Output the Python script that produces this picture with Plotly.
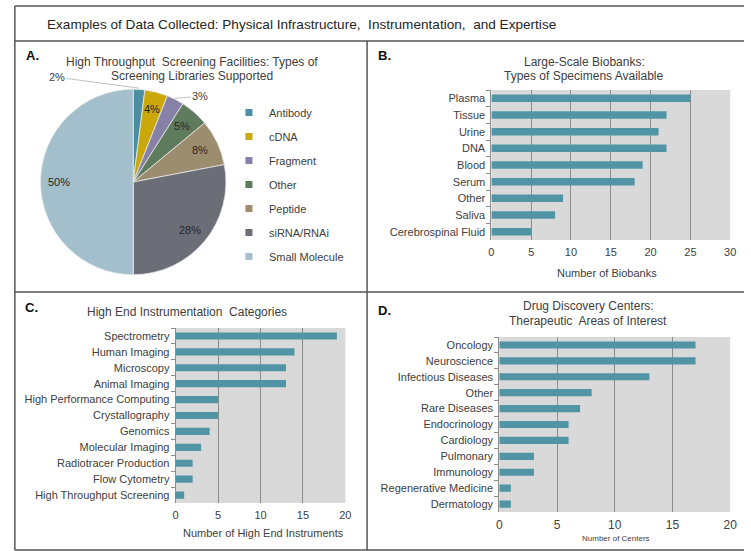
import numpy as np
import plotly.graph_objects as go

W, H = 751, 551
FONT = "Liberation Sans, Arial, sans-serif"
TXT = "#404040"

# ---------------- data ----------------
pie_labels = ["Antibody", "cDNA", "Fragment", "Other", "Peptide", "siRNA/RNAi", "Small Molecule"]
pie_values = [2, 4, 3, 5, 8, 28, 50]
pie_colors = ["#4a8e9f", "#cba80a", "#8881a7", "#5e7b5e", "#9d8d6f", "#6c6e77", "#a3bfcc"]

biobank_types = ["Plasma", "Tissue", "Urine", "DNA", "Blood", "Serum", "Other", "Saliva",
                 "Cerebrospinal Fluid"]
biobank_counts = [25, 22, 21, 22, 19, 18, 9, 8, 5]

instrument_categories = ["Spectrometry", "Human Imaging", "Microscopy", "Animal Imaging",
                         "High Performance Computing", "Crystallography", "Genomics",
                         "Molecular Imaging", "Radiotracer Production", "Flow Cytometry",
                         "High Throughput Screening"]
instrument_counts = [19, 14, 13, 13, 5, 5, 4, 3, 2, 2, 1]

therapeutic_areas = ["Oncology", "Neuroscience", "Infectious Diseases", "Other", "Rare Diseases",
                     "Endocrinology", "Cardiology", "Pulmonary", "Immunology",
                     "Regenerative Medicine", "Dermatology"]
center_counts = [17, 17, 13, 8, 7, 6, 6, 3, 3, 1, 1]

# ---------------- helpers ----------------
def px(x):
    return x / W


def py(y):
    return 1 - y / H


BAR = "#5094a6"
GRID = "#8c8c8c"

fig = go.Figure()

# ---------------- pie (panel A) ----------------
PIE_L, PIE_R, PIE_T, PIE_B = 38, 226, 88, 276
fig.add_trace(go.Pie(
    labels=pie_labels, values=pie_values, sort=False, direction="clockwise", rotation=0,
    marker=dict(colors=pie_colors, line=dict(color="#e8e8e8", width=0.8)),
    textinfo="none", hoverinfo="label+percent", showlegend=False,
    domain=dict(x=[px(PIE_L), px(PIE_R)], y=[py(PIE_B), py(PIE_T)]),
))

# legend entries (one group each so the spacing can be opened up)
for lab, col in zip(pie_labels, pie_colors):
    fig.add_trace(go.Scatter(
        x=[None], y=[None], mode="markers", name=lab, legendgroup=lab,
        marker=dict(symbol="square", size=7, color=col, line=dict(width=0)),
        xaxis="x", yaxis="y", showlegend=True, hoverinfo="skip",
    ))

# ---------------- bars ----------------
fig.add_trace(go.Bar(x=biobank_counts, y=biobank_types, orientation="h",
                     marker=dict(color=BAR, line=dict(width=0)), xaxis="x", yaxis="y",
                     showlegend=False))
fig.add_trace(go.Bar(x=instrument_counts, y=instrument_categories, orientation="h",
                     marker=dict(color=BAR, line=dict(width=0)), xaxis="x2", yaxis="y2",
                     showlegend=False))
fig.add_trace(go.Bar(x=center_counts, y=therapeutic_areas, orientation="h",
                     marker=dict(color=BAR, line=dict(width=0)), xaxis="x3", yaxis="y3",
                     showlegend=False))


def xax(l, r, rng, anchor, size=11):
    return dict(domain=[px(l), px(r)], anchor=anchor, range=rng, dtick=5, tick0=0,
                showgrid=True, gridcolor=GRID, gridwidth=1, zeroline=False, showline=False,
                ticks="", tickfont=dict(size=size, color=TXT, family=FONT),
                ticklabelstandoff=4, fixedrange=True)


def yax(t, b, anchor):
    return dict(domain=[py(b), py(t)], anchor=anchor, type="category", autorange="reversed",
                ticks="outside", tickson="boundaries", ticklen=4, tickcolor=GRID,
                showline=True, linecolor=GRID, linewidth=1, showgrid=False,
                tickfont=dict(size=11, color=TXT, family=FONT), ticklabelstandoff=3,
                fixedrange=True)


# ---------------- annotations ----------------
ann = []


def text(x, y, s, size=12, color=TXT, anchor="center", bold=False):
    ann.append(dict(x=px(x), y=py(y), xref="paper", yref="paper", text=f"<b>{s}</b>" if bold else s,
                    showarrow=False, xanchor=anchor, yanchor="middle",
                    font=dict(size=size, color=color, family=FONT)))


text(43, 24, "Examples of Data Collected: Physical Infrastructure,  Instrumentation,  and Expertise",
     size=13.6, color="#262626", anchor="left")

text(21, 56, "A.", size=13, color="#111", anchor="left", bold=True)
text(378, 56, "B.", size=13, color="#111", anchor="left", bold=True)
text(20, 307, "C.", size=13, color="#111", anchor="left", bold=True)
text(378, 310, "D.", size=13, color="#111", anchor="left", bold=True)

text(192, 62, "High Throughput  Screening Facilities: Types of")
text(192, 76, "Screening Libraries Supported")
text(589, 62, "Large-Scale Biobanks:")
text(589, 76, "Types of Specimens Available")
text(186, 312, "High End Instrumentation  Categories")
text(593, 306, "Drug Discovery Centers:")
text(593, 321, "Therapeutic  Areas of Interest")

text(612, 273, "Number of Biobanks", size=11)
text(264, 533, "Number of High End Instruments", size=11)
text(621, 538, "Number of Centers", size=8)

# pie percentage labels, placed from the data
cx, cy = (PIE_L + PIE_R) / 2, (PIE_T + PIE_B) / 2
rad = (PIE_R - PIE_L) / 2
vals = np.array(pie_values, dtype=float)
frac = vals / vals.sum()
mids = np.cumsum(frac) - frac / 2
outside_offsets = {0: (-82, -11), 2: (25, -2)}
for i, (f, m) in enumerate(zip(frac, mids)):
    th = 2 * np.pi * m
    lab = f"{round(f * 100):.0f}%"
    if i in outside_offsets:
        ex, ey = cx + rad * np.sin(th), cy - rad * np.cos(th)
        ox, oy = outside_offsets[i]
        ann.append(dict(x=px(ex), y=py(ey), xref="paper", yref="paper", text=lab,
                        showarrow=True, arrowhead=0, arrowwidth=0.8, arrowcolor="#b0b0b0",
                        ax=ox, ay=oy, standoff=0, startstandoff=0,
                        font=dict(size=11, color=TXT, family=FONT)))
    else:
        lx, ly = cx + 0.8 * rad * np.sin(th), cy - 0.8 * rad * np.cos(th)
        text(lx, ly, lab, size=11, color="#262626")

# ---------------- frame lines ----------------
LC = "#555555"
shapes = []


def hline(y, x0, x1):
    shapes.append(dict(type="line", xref="paper", yref="paper", x0=px(x0), x1=px(x1),
                       y0=py(y), y1=py(y), line=dict(color=LC, width=1.5)))


def vline(x, y0, y1):
    shapes.append(dict(type="line", xref="paper", yref="paper", x0=px(x), x1=px(x),
                       y0=py(y0), y1=py(y1), line=dict(color=LC, width=1.5)))


hline(6, 12, 751)
hline(41, 12, 751)
hline(292, 12, 751)
hline(550, 12, 751)
vline(12, 6, 550)
vline(369, 41, 550)

fig.update_layout(
    width=W, height=H, margin=dict(l=0, r=0, t=0, b=0),
    paper_bgcolor="white", plot_bgcolor="#d9d9d9",
    font=dict(family=FONT, color=TXT, size=11),
    bargap=0.55,
    xaxis=xax(495, 737, [0, 30], "y"),
    yaxis=yax(90, 240, "x"),
    xaxis2=xax(175, 347, [0, 20], "y2"),
    yaxis2=yax(328, 503, "x2"),
    xaxis3=xax(503, 737, [0, 20], "y3", size=12),
    yaxis3=yax(337, 512, "x3"),
    showlegend=True,
    legend=dict(x=px(229), y=py(98), xanchor="left", yanchor="top", tracegroupgap=5,
                font=dict(size=11, color=TXT, family=FONT), bgcolor="rgba(0,0,0,0)",
                borderwidth=0, itemclick=False, itemdoubleclick=False),
    annotations=ann, shapes=shapes,
)

fig.write_html("out.html")
